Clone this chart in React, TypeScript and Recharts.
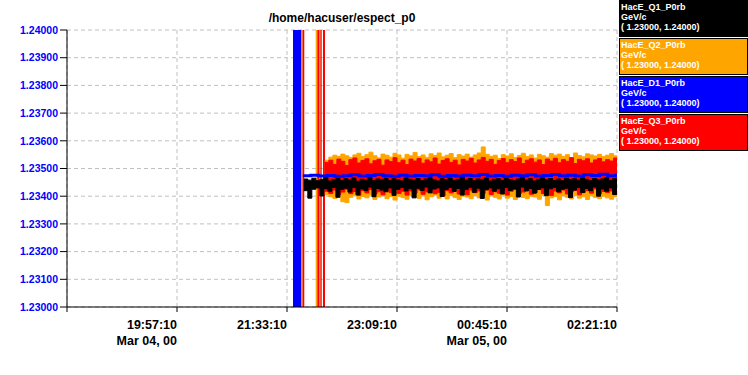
import React from 'react';
import { ComposedChart, Area, Line, XAxis, YAxis, CartesianGrid, Legend } from 'recharts';

const FONT = '"Liberation Sans", Arial, Helvetica, sans-serif';

// time axis: seconds since Mar 04 18:21:10
const xTicks = [0, 5760, 11520, 17280, 23040, 28800];
const xTickTimes = ['', '19:57:10', '21:33:10', '23:09:10', '00:45:10', '02:21:10'];
const xTickDates = ['', 'Mar 04, 00', '', '', 'Mar 05, 00', ''];
const yTicks = [1.23, 1.231, 1.232, 1.233, 1.234, 1.235, 1.236, 1.237, 1.238, 1.239, 1.24];

const seriesNames = ['HacE_Q1_P0rb', 'HacE_Q2_P0rb', 'HacE_D1_P0rb', 'HacE_Q3_P0rb'];
const seriesColors = ['#000000', '#ffa500', '#0000ff', '#ff0000'];
const seriesUnit = 'GeV/c';
const seriesRange = '( 1.23000, 1.24000)';
const title = '/home/hacuser/espect_p0';

// off-scale readings (before the signals settle)
const offScale = [1.229, 1.241];
const d1Spikes = [[11834, 12279]];
const q2Spikes = [[12279, 12331], [13022, 13106], [13216, 13268]];
const q3Spikes = [[12331, 12425], [13106, 13216], [13268, 13337], [13405, 13510]];

// sampling of the settled readings
const sampleStep = 210;
const q2Start = 13500;
const q3Start = 13500;
const q1Start = 12400;
const d1Start = 12350;
const d1Step = 420;

// HacE_Q2_P0rb envelope (max / min per sample)
const q2Hi = [
  1.23530, 1.23541, 1.23548, 1.23544, 1.23552, 1.23546, 1.23540, 1.23549, 1.23555, 1.23543,
  1.23550, 1.23559, 1.23546, 1.23538, 1.23552, 1.23548, 1.23541, 1.23555, 1.23549, 1.23537,
  1.23551, 1.23546, 1.23558, 1.23543, 1.23549, 1.23540, 1.23553, 1.23547, 1.23556, 1.23542,
  1.23548, 1.23554, 1.23539, 1.23550, 1.23545, 1.23552, 1.23541, 1.23549, 1.23556, 1.23578,
  1.23551, 1.23544, 1.23548, 1.23536, 1.23550, 1.23545, 1.23553, 1.23540, 1.23547, 1.23555,
  1.23543, 1.23549, 1.23538, 1.23551, 1.23546, 1.23541, 1.23554, 1.23548, 1.23552, 1.23544,
  1.23550, 1.23539, 1.23556, 1.23547, 1.23542, 1.23553, 1.23549, 1.23545, 1.23551, 1.23543,
  1.23548, 1.23554, 1.23546, 1.23550,
];
const q2Lo = [
  1.23405, 1.23398, 1.23392, 1.23401, 1.23380, 1.23377, 1.23396, 1.23403, 1.23390, 1.23399,
  1.23394, 1.23404, 1.23388, 1.23397, 1.23402, 1.23391, 1.23399, 1.23386, 1.23400, 1.23395,
  1.23389, 1.23403, 1.23396, 1.23392, 1.23401, 1.23387, 1.23398, 1.23404, 1.23393, 1.23399,
  1.23390, 1.23402, 1.23395, 1.23388, 1.23400, 1.23397, 1.23391, 1.23403, 1.23394, 1.23399,
  1.23386, 1.23401, 1.23396, 1.23390, 1.23404, 1.23393, 1.23399, 1.23388, 1.23402, 1.23395,
  1.23391, 1.23400, 1.23397, 1.23389, 1.23403, 1.23366, 1.23394, 1.23399, 1.23387, 1.23401,
  1.23396, 1.23390, 1.23402, 1.23393, 1.23398, 1.23388, 1.23401, 1.23395, 1.23391, 1.23400,
  1.23394, 1.23389, 1.23398, 1.23396,
];

// HacE_Q3_P0rb envelope
const q3Hi = [
  1.23522, 1.23530, 1.23515, 1.23534, 1.23526, 1.23511, 1.23532, 1.23538, 1.23520, 1.23529,
  1.23535, 1.23517, 1.23528, 1.23533, 1.23512, 1.23531, 1.23525, 1.23539, 1.23521, 1.23530,
  1.23514, 1.23534, 1.23527, 1.23536, 1.23519, 1.23531, 1.23524, 1.23538, 1.23516, 1.23529,
  1.23535, 1.23522, 1.23530, 1.23513, 1.23533, 1.23527, 1.23537, 1.23520, 1.23531, 1.23540,
  1.23526, 1.23533, 1.23515, 1.23529, 1.23536, 1.23521, 1.23532, 1.23525, 1.23538, 1.23518,
  1.23530, 1.23535, 1.23523, 1.23531, 1.23514, 1.23534, 1.23527, 1.23537, 1.23521, 1.23532,
  1.23526, 1.23539, 1.23518, 1.23533, 1.23528, 1.23535, 1.23520, 1.23531, 1.23536, 1.23524,
  1.23532, 1.23527, 1.23538, 1.23529,
];
const q3Lo = [
  1.23418, 1.23410, 1.23422, 1.23406, 1.23415, 1.23425, 1.23409, 1.23417, 1.23403, 1.23420,
  1.23412, 1.23424, 1.23408, 1.23416, 1.23405, 1.23421, 1.23413, 1.23426, 1.23410, 1.23418,
  1.23404, 1.23419, 1.23411, 1.23423, 1.23407, 1.23416, 1.23421, 1.23409, 1.23414, 1.23402,
  1.23420, 1.23412, 1.23425, 1.23408, 1.23417, 1.23405, 1.23422, 1.23413, 1.23419, 1.23410,
  1.23423, 1.23406, 1.23416, 1.23411, 1.23420, 1.23404, 1.23418, 1.23425, 1.23409, 1.23415,
  1.23421, 1.23407, 1.23413, 1.23424, 1.23410, 1.23417, 1.23403, 1.23419, 1.23412, 1.23422,
  1.23408, 1.23416, 1.23421, 1.23405, 1.23414, 1.23420, 1.23411, 1.23426, 1.23409, 1.23417,
  1.23413, 1.23419, 1.23407, 1.23415,
];

// HacE_Q1_P0rb envelope
const q1Hi = [
  1.23462, 1.23458, 1.23465, 1.23456, 1.23461, 1.23467, 1.23455, 1.23460, 1.23464, 1.23457,
  1.23463, 1.23459, 1.23466, 1.23454, 1.23461, 1.23458, 1.23468, 1.23456, 1.23462, 1.23460,
  1.23465, 1.23457, 1.23463, 1.23459, 1.23455, 1.23466, 1.23461, 1.23458, 1.23464, 1.23456,
  1.23462, 1.23467, 1.23459, 1.23455, 1.23463, 1.23460, 1.23466, 1.23457, 1.23461, 1.23472,
  1.23458, 1.23464, 1.23456, 1.23462, 1.23459, 1.23466, 1.23455, 1.23461, 1.23463, 1.23457,
  1.23465, 1.23460, 1.23456, 1.23462, 1.23467, 1.23458, 1.23463, 1.23455, 1.23461, 1.23466,
  1.23459, 1.23464, 1.23457, 1.23462, 1.23456, 1.23465, 1.23460, 1.23463, 1.23458, 1.23466,
  1.23461, 1.23456, 1.23464, 1.23459, 1.23462, 1.23467, 1.23457, 1.23463, 1.23460, 1.23465,
];
const q1Lo = [
  1.23420, 1.23393, 1.23425, 1.23430, 1.23401, 1.23427, 1.23418, 1.23432, 1.23396, 1.23424,
  1.23429, 1.23415, 1.23431, 1.23405, 1.23426, 1.23420, 1.23433, 1.23398, 1.23428, 1.23422,
  1.23416, 1.23430, 1.23403, 1.23425, 1.23432, 1.23419, 1.23427, 1.23394, 1.23429, 1.23421,
  1.23433, 1.23412, 1.23426, 1.23430, 1.23399, 1.23424, 1.23431, 1.23417, 1.23428, 1.23404,
  1.23425, 1.23432, 1.23414, 1.23429, 1.23392, 1.23423, 1.23430, 1.23418, 1.23427, 1.23408,
  1.23431, 1.23421, 1.23426, 1.23397, 1.23433, 1.23419, 1.23428, 1.23411, 1.23424, 1.23430,
  1.23402, 1.23427, 1.23432, 1.23416, 1.23425, 1.23429, 1.23395, 1.23422, 1.23431, 1.23413,
  1.23428, 1.23420, 1.23433, 1.23400, 1.23426, 1.23418, 1.23430, 1.23406, 1.23424, 1.23429,
];

// HacE_D1_P0rb
const d1Values = [
  1.23474, 1.23476, 1.23473, 1.23475, 1.23472, 1.23474, 1.23477, 1.23473, 1.23475, 1.23478,
  1.23474, 1.23472, 1.23476, 1.23473, 1.23475, 1.23474, 1.23477, 1.23472, 1.23475, 1.23473,
  1.23476, 1.23474, 1.23478, 1.23473, 1.23475, 1.23472, 1.23476, 1.23474, 1.23477, 1.23473,
  1.23475, 1.23478, 1.23474, 1.23476, 1.23473, 1.23477, 1.23475, 1.23479, 1.23474, 1.23476,
  1.23475,
];

const envelope = (start: number, step: number, lo: number[], hi: number[]) =>
  lo.map((l, i) => ({ t: start + i * step, r: [l, hi[i]] }));
const spikeRows = (s: number[]) => [
  { t: s[0], r: offScale },
  { t: s[1], r: offScale },
];

const q2Data = envelope(q2Start, sampleStep, q2Lo, q2Hi);
const q3Data = envelope(q3Start, sampleStep, q3Lo, q3Hi);
const q1Data = envelope(q1Start, sampleStep, q1Lo, q1Hi);
const d1Data = d1Values.map((v, i) => ({ t: d1Start + i * d1Step, v }));

const XTick = (props: any) => {
  const { x, y, payload } = props;
  const i = xTicks.indexOf(payload.value);
  return (
    <text x={x} y={y} textAnchor="end" fill="#000" fontFamily={FONT} fontWeight="bold" fontSize={12.5}>
      <tspan x={x} dy={15}>{xTickTimes[i]}</tspan>
      {xTickDates[i] ? <tspan x={x} dy={16}>{xTickDates[i]}</tspan> : null}
    </text>
  );
};

const renderLegend = () => (
  <div style={{ width: 129 }}>
    {seriesNames.map((n, i) => (
      <div
        key={n}
        style={{
          boxSizing: 'border-box',
          height: 37,
          marginBottom: 1,
          background: seriesColors[i],
          border: '1px solid #000',
          color: '#fff',
          fontFamily: FONT,
          fontWeight: 'bold',
          fontSize: 9,
          lineHeight: '10px',
          padding: '1px 0 0 1px',
          textAlign: 'left',
          whiteSpace: 'pre',
        }}
      >
        <div>{n}</div>
        <div>{seriesUnit}</div>
        <div>{seriesRange}</div>
      </div>
    ))}
  </div>
);

export default function App() {
  return (
    <div style={{ position: 'absolute', left: 0, top: 0, width: 748, height: 375, background: '#fff' }}>
      <div
        style={{
          position: 'absolute',
          left: 242,
          top: 11,
          width: 200,
          textAlign: 'center',
          fontFamily: FONT,
          fontWeight: 'bold',
          fontSize: 12,
          lineHeight: '14px',
          color: '#000',
          zIndex: 2,
        }}
      >
        {title}
      </div>
      <ComposedChart width={748} height={375} margin={{ top: 30, right: 131, bottom: 8, left: 0 }}>
        <CartesianGrid stroke="#c0c0c0" strokeDasharray="4 3" />
        <XAxis
          dataKey="t"
          type="number"
          domain={[0, 28800]}
          ticks={xTicks}
          interval={0}
          allowDataOverflow
          height={60}
          tickSize={5}
          tickMargin={2}
          axisLine={{ stroke: '#000' }}
          tickLine={{ stroke: '#000' }}
          tick={<XTick />}
        />
        <YAxis
          type="number"
          domain={[1.23, 1.24]}
          ticks={yTicks}
          interval={0}
          allowDataOverflow
          width={67}
          tickSize={7}
          tickMargin={2}
          axisLine={{ stroke: '#000' }}
          tickLine={{ stroke: '#000' }}
          tickFormatter={(v: number) => v.toFixed(5)}
          tick={{ fill: '#0000ff', fontSize: 10.5, fontWeight: 'bold', fontFamily: FONT }}
        />
        {d1Spikes.map((s, k) => (
          <Area key={'d1s' + k} data={spikeRows(s)} dataKey="r" type="linear" fill={seriesColors[2]} fillOpacity={1} stroke={seriesColors[2]} strokeWidth={1} isAnimationActive={false} legendType="none" />
        ))}
        {q2Spikes.map((s, k) => (
          <Area key={'q2s' + k} data={spikeRows(s)} dataKey="r" type="linear" fill={seriesColors[1]} fillOpacity={1} stroke={seriesColors[1]} strokeWidth={1} isAnimationActive={false} legendType="none" />
        ))}
        {q3Spikes.map((s, k) => (
          <Area key={'q3s' + k} data={spikeRows(s)} dataKey="r" type="linear" fill={seriesColors[3]} fillOpacity={1} stroke={seriesColors[3]} strokeWidth={1} isAnimationActive={false} legendType="none" />
        ))}
        <Area data={q2Data} dataKey="r" name={seriesNames[1]} type="stepAfter" fill={seriesColors[1]} fillOpacity={1} stroke={seriesColors[1]} strokeWidth={1} isAnimationActive={false} />
        <Area data={q3Data} dataKey="r" name={seriesNames[3]} type="stepAfter" fill={seriesColors[3]} fillOpacity={1} stroke={seriesColors[3]} strokeWidth={1} isAnimationActive={false} />
        <Area data={q1Data} dataKey="r" name={seriesNames[0]} type="stepAfter" fill={seriesColors[0]} fillOpacity={1} stroke={seriesColors[0]} strokeWidth={1} isAnimationActive={false} />
        <Line data={d1Data} dataKey="v" name={seriesNames[2]} type="stepAfter" stroke={seriesColors[2]} strokeWidth={3} dot={false} isAnimationActive={false} />
        <Legend
          layout="vertical"
          align="center"
          verticalAlign="middle"
          content={renderLegend}
          wrapperStyle={{ position: 'absolute', top: 0, left: 619, width: 129, height: 152 }}
        />
      </ComposedChart>
    </div>
  );
}
